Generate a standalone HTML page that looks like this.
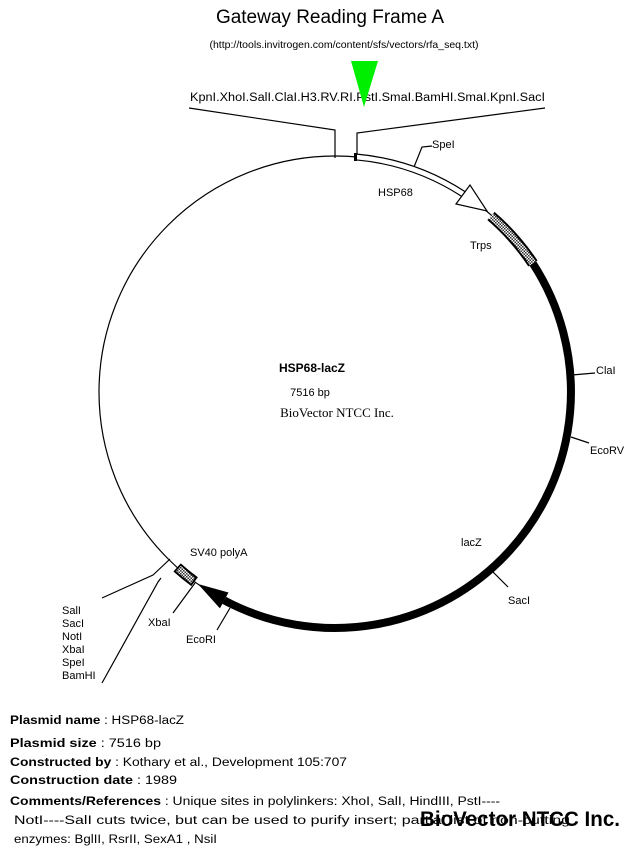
<!DOCTYPE html>
<html><head><meta charset="utf-8"><style>
body{margin:0;background:#fff;width:636px;height:850px;overflow:hidden}
svg{display:block}
text{font-family:"Liberation Sans",sans-serif;fill:#000}
</style></head><body>
<svg width="636" height="850" viewBox="0 0 636 850">
<defs>
<pattern id="h" width="3" height="3" patternUnits="userSpaceOnUse"><rect width="3" height="3" fill="#fff"/><rect width="1.5" height="1.5" fill="#333"/><rect x="1.5" y="1.5" width="1.5" height="1.5" fill="#333"/></pattern>
</defs>
<text x="330" y="23" font-size="19" text-anchor="middle">Gateway Reading Frame A</text>
<text x="344" y="48" font-size="10.5" text-anchor="middle">(http://tools.invitrogen.com/content/sfs/vectors/rfa_seq.txt)</text>
<text x="190" y="101" font-size="11.5" textLength="355" lengthAdjust="spacingAndGlyphs">KpnI.XhoI.SalI.ClaI.H3.RV.RI.PstI.SmaI.BamHI.SmaI.KpnI.SacI</text>
<polygon points="351,61 378,61 364,107" fill="#00ee00"/>
<g stroke="#000" fill="none" stroke-width="1.2">
<circle cx="335" cy="392" r="236"/>
<polyline points="189,108 335,130 335,158"/>
<polyline points="357,158 357,133 545,108"/>
<polyline points="414,167 422,147 432,146"/>
<polyline points="572,375 595,373"/>
<polyline points="571,437 589,443"/>
<polyline points="493,572 508,587"/>
<polyline points="102,598 153,575 170,559"/>
<polyline points="102,683 158,582 161,578"/>
<polyline points="173,613 195,583"/>
<polyline points="217,630 230,608"/>
</g>
<path d="M355.6,156.9 A236,236 0 0 1 463.5,194.1" stroke="#000" stroke-width="7" fill="none"/>
<path d="M355.6,156.9 A236,236 0 0 1 463.5,194.1" stroke="#fff" stroke-width="4.6" fill="none"/>
<rect x="354" y="153" width="3" height="8" fill="#000"/>
<polygon points="470,185 456,204 487,211" fill="#fff" stroke="#000" stroke-width="1.2"/>
<path d="M491,216 A236,236 0 0 1 532.9,263.5" stroke="#000" stroke-width="11" fill="none"/>
<path d="M491,216 A236,236 0 0 1 532.9,263.5" stroke="url(#h)" stroke-width="7" fill="none"/>
<path d="M532.9,263.5 A236,236 0 0 1 224.2,600.4" stroke="#000" stroke-width="8" fill="none"/>
<polygon points="198,584 219.9,608.4 228.5,592.5" fill="#000"/>
<path d="M177.1,567.4 A236,236 0 0 0 194.6,581.7" stroke="#000" stroke-width="11" fill="none"/>
<path d="M178.5,568.5 A236,236 0 0 0 193,580.7" stroke="url(#h)" stroke-width="7" fill="none"/>
<g font-size="11">
<text x="432" y="148">SpeI</text>
<text x="378" y="196">HSP68</text>
<text x="470" y="249">Trps</text>
<text x="596" y="374">ClaI</text>
<text x="590" y="454">EcoRV</text>
<text x="461" y="546">lacZ</text>
<text x="508" y="604">SacI</text>
<text x="190" y="556">SV40 polyA</text>
<text x="148" y="626">XbaI</text>
<text x="186" y="643">EcoRI</text>
<text x="62" y="614">SalI</text>
<text x="62" y="627">SacI</text>
<text x="62" y="640">NotI</text>
<text x="62" y="653">XbaI</text>
<text x="62" y="666">SpeI</text>
<text x="62" y="679">BamHI</text>
<text x="312" y="372" font-weight="bold" text-anchor="middle" font-size="12">HSP68-lacZ</text>
<text x="310" y="396" text-anchor="middle">7516 bp</text>
</g>
<text x="337" y="417" font-size="13" text-anchor="middle" style="font-family:'Liberation Serif',serif">BioVector NTCC Inc.</text>
<g font-size="11.5">
<text x="10" y="724" textLength="174" lengthAdjust="spacingAndGlyphs"><tspan font-weight="bold">Plasmid name</tspan> : HSP68-lacZ</text>
<text x="10" y="747" textLength="151" lengthAdjust="spacingAndGlyphs"><tspan font-weight="bold">Plasmid size</tspan> : 7516 bp</text>
<text x="10" y="766" textLength="337" lengthAdjust="spacingAndGlyphs"><tspan font-weight="bold">Constructed by</tspan> : Kothary et al., Development 105:707</text>
<text x="10" y="784" textLength="167" lengthAdjust="spacingAndGlyphs"><tspan font-weight="bold">Construction date</tspan> : 1989</text>
<text x="10" y="805" textLength="490" lengthAdjust="spacingAndGlyphs"><tspan font-weight="bold">Comments/References</tspan> : Unique sites in polylinkers: XhoI, SalI, HindIII, PstI----</text>
<text x="14" y="824" textLength="556" lengthAdjust="spacingAndGlyphs">NotI----SalI cuts twice, but can be used to purify insert; partial list of non-cutting</text>
<text x="14" y="843" textLength="203" lengthAdjust="spacingAndGlyphs">enzymes: BglII, RsrII, SexA1 , NsiI</text>
</g>
<text x="420" y="826" font-size="21" font-weight="bold" textLength="200" lengthAdjust="spacingAndGlyphs">BioVector NTCC Inc.</text>
</svg>
</body></html>
